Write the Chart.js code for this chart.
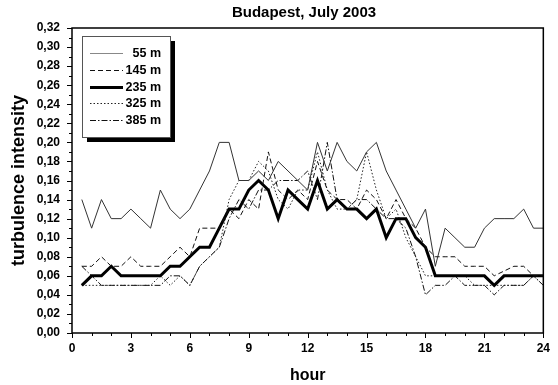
<!DOCTYPE html>
<html>
<head>
<meta charset="utf-8">
<script src="https://cdn.jsdelivr.net/npm/chart.js@4"></script>
<style>
    html, body { margin: 0; padding: 0; background: #fff; }
</style>
</head>
<body>
<canvas id="chart" width="558" height="385"></canvas>
<script>
// Half-hour readings, 0.5 h .. 24 h
const HOURS = [
    0.5, 1, 1.5, 2, 2.5, 3, 3.5, 4, 4.5, 5, 5.5, 6,
    6.5, 7, 7.5, 8, 8.5, 9, 9.5, 10, 10.5, 11, 11.5, 12,
    12.5, 13, 13.5, 14, 14.5, 15, 15.5, 16, 16.5, 17, 17.5, 18,
    18.5, 19, 19.5, 20, 20.5, 21, 21.5, 22, 22.5, 23, 23.5, 24
];

const SERIES_NAMES = ['55 m', '145 m', '235 m', '325 m', '385 m'];

const H55 = [
    0.14, 0.11, 0.14, 0.12, 0.12, 0.13, 0.12, 0.11, 0.15, 0.13, 0.12, 0.13,
    0.15, 0.17, 0.20, 0.20, 0.16, 0.16, 0.17, 0.16, 0.18, 0.17, 0.16, 0.15,
    0.20, 0.17, 0.20, 0.18, 0.17, 0.19, 0.20, 0.17, 0.15, 0.13, 0.11, 0.13,
    0.07, 0.11, 0.10, 0.09, 0.09, 0.11, 0.12, 0.12, 0.12, 0.13, 0.11, 0.11
];
const H145 = [
    0.07, 0.07, 0.08, 0.07, 0.07, 0.08, 0.07, 0.07, 0.07, 0.08, 0.09, 0.08,
    0.11, 0.11, 0.11, 0.13, 0.12, 0.14, 0.13, 0.19, 0.15, 0.14, 0.15, 0.14,
    0.18, 0.15, 0.14, 0.14, 0.13, 0.15, 0.14, 0.12, 0.14, 0.12, 0.11, 0.09,
    0.08, 0.08, 0.08, 0.07, 0.07, 0.07, 0.06, 0.065, 0.07, 0.07, 0.06, 0.06
];
const H235 = [
    0.05, 0.06, 0.06, 0.07, 0.06, 0.06, 0.06, 0.06, 0.06, 0.07, 0.07, 0.08,
    0.09, 0.09, 0.11, 0.13, 0.13, 0.15, 0.16, 0.15, 0.12, 0.15, 0.14, 0.13,
    0.16, 0.13, 0.14, 0.13, 0.13, 0.12, 0.13, 0.10, 0.12, 0.12, 0.10, 0.09,
    0.06, 0.06, 0.06, 0.06, 0.06, 0.06, 0.05, 0.06, 0.06, 0.06, 0.06, 0.06
];
const H325 = [
    0.05, 0.05, 0.05, 0.05, 0.05, 0.05, 0.05, 0.05, 0.06, 0.05, 0.06, 0.05,
    0.07, 0.08, 0.09, 0.14, 0.16, 0.16, 0.18, 0.17, 0.14, 0.13, 0.15, 0.15,
    0.19, 0.15, 0.13, 0.13, 0.14, 0.19, 0.15, 0.12, 0.13, 0.10, 0.08, 0.06,
    0.06, 0.06, 0.06, 0.06, 0.05, 0.05, 0.05, 0.05, 0.05, 0.05, 0.06, 0.05
];
const H385 = [
    0.07, 0.06, 0.05, 0.05, 0.05, 0.05, 0.05, 0.05, 0.05, 0.06, 0.06, 0.05,
    0.07, 0.08, 0.09, 0.12, 0.14, 0.13, 0.15, 0.15, 0.16, 0.16, 0.16, 0.17,
    0.14, 0.20, 0.14, 0.13, 0.14, 0.14, 0.13, 0.12, 0.12, 0.11, 0.08, 0.04,
    0.05, 0.05, 0.06, 0.05, 0.05, 0.05, 0.04, 0.05, 0.05, 0.05, 0.06, 0.05
];

const FONT = '"Liberation Sans", Arial, sans-serif';

// line looks per height
const styles = [
    { color: '#333', width: 1, dash: [] },
    { color: '#111', width: 1, dash: [5, 3] },
    { color: '#000', width: 3, dash: [] },
    { color: '#222', width: 1, dash: [1.5, 2] },
    { color: '#111', width: 1, dash: [6, 2, 1.5, 2] }
];

function toPoints(values) {
    return HOURS.map((h, i) => ({ x: h, y: values[i] }));
}

const datasets = [H55, H145, H235, H325, H385].map((vals, i) => ({
    label: SERIES_NAMES[i],
    data: toPoints(vals),
    borderColor: styles[i].color,
    borderWidth: styles[i].width,
    borderDash: styles[i].dash,
    pointRadius: 0,
    tension: 0,
    fill: false
}));

// Frame, tick marks and chart title
const framePlugin = {
    id: 'frame',
    afterDraw(chart) {
        const { ctx, chartArea: a, scales: { x, y } } = chart;
        ctx.save();
        ctx.strokeStyle = '#000';
        ctx.lineWidth = 1.5;
        ctx.setLineDash([]);
        ctx.strokeRect(a.left, a.top, a.right - a.left, a.bottom - a.top);

        ctx.lineWidth = 1;
        ctx.beginPath();
        for (let h = 0; h <= 24; h++) {
            const px = Math.round(x.getPixelForValue(h)) + 0.5;
            ctx.moveTo(px, a.bottom);
            ctx.lineTo(px, a.bottom + (h % 3 === 0 ? 5 : 3));
        }
        for (let k = 0; k <= 32; k++) {
            const py = Math.round(y.getPixelForValue(k / 100)) + 0.5;
            ctx.moveTo(a.left, py);
            ctx.lineTo(a.left - (k % 2 === 0 ? 5 : 3), py);
        }
        ctx.stroke();

        ctx.fillStyle = '#000';
        ctx.font = 'bold 15px ' + FONT;
        ctx.textAlign = 'center';
        ctx.textBaseline = 'middle';
        ctx.fillText('Budapest, July 2003', 304, 13);
        ctx.restore();
    }
};

// Boxed legend with drop shadow, upper left
const legendPlugin = {
    id: 'boxLegend',
    afterDraw(chart) {
        const ctx = chart.ctx;
        const L = 82, T = 36, W = 88, H = 101;
        ctx.save();
        ctx.fillStyle = '#000';
        ctx.fillRect(L + 5, T + 5, W, H);
        ctx.fillStyle = '#fff';
        ctx.fillRect(L, T, W, H);
        ctx.strokeStyle = '#555';
        ctx.lineWidth = 1;
        ctx.setLineDash([]);
        ctx.strokeRect(L + 0.5, T + 0.5, W, H);

        ctx.font = 'bold 12.5px ' + FONT;
        ctx.textAlign = 'right';
        ctx.textBaseline = 'middle';
        chart.data.datasets.forEach((ds, i) => {
            const yy = Math.round(53 + i * 16.75) + 0.5;
            ctx.strokeStyle = i === 0 ? '#888' : ds.borderColor;
            ctx.lineWidth = ds.borderWidth;
            ctx.setLineDash(ds.borderDash);
            ctx.beginPath();
            ctx.moveTo(90, yy);
            ctx.lineTo(123, yy);
            ctx.stroke();
            ctx.fillStyle = '#000';
            ctx.fillText(ds.label, 161, yy);
        });
        ctx.restore();
    }
};

new Chart(document.getElementById('chart'), {
    type: 'line',
    data: { datasets },
    options: {
        responsive: false,
        animation: false,
        layout: { padding: { top: 28, right: 4, left: 0, bottom: 0 } },
        plugins: {
            legend: { display: false },
            title: { display: false },
            tooltip: { enabled: false }
        },
        scales: {
            x: {
                type: 'linear',
                min: 0,
                max: 24,
                grid: { display: false, drawTicks: false },
                border: { display: false },
                afterFit: s => { s.height = 52; },
                ticks: {
                    stepSize: 3,
                    padding: 8,
                    maxRotation: 0,
                    autoSkip: false,
                    color: '#000',
                    font: { family: FONT, size: 12, weight: 'bold' }
                },
                title: {
                    display: true,
                    text: 'hour',
                    color: '#000',
                    padding: { top: 0, bottom: 0 },
                    font: { family: FONT, size: 16, weight: 'bold' }
                }
            },
            y: {
                min: 0,
                max: 0.32,
                grid: { display: false, drawTicks: false },
                border: { display: false },
                afterFit: s => { s.width = 72; },
                ticks: {
                    stepSize: 0.02,
                    padding: 12,
                    color: '#000',
                    font: { family: FONT, size: 12, weight: 'bold' },
                    callback: v => v.toFixed(2).replace('.', ',')
                },
                title: {
                    display: true,
                    text: 'turbulence intensity',
                    color: '#000',
                    padding: { top: 8, bottom: 0 },
                    font: { family: FONT, size: 18, weight: 'bold' }
                }
            }
        }
    },
    plugins: [framePlugin, legendPlugin]
});
</script>
</body>
</html>
